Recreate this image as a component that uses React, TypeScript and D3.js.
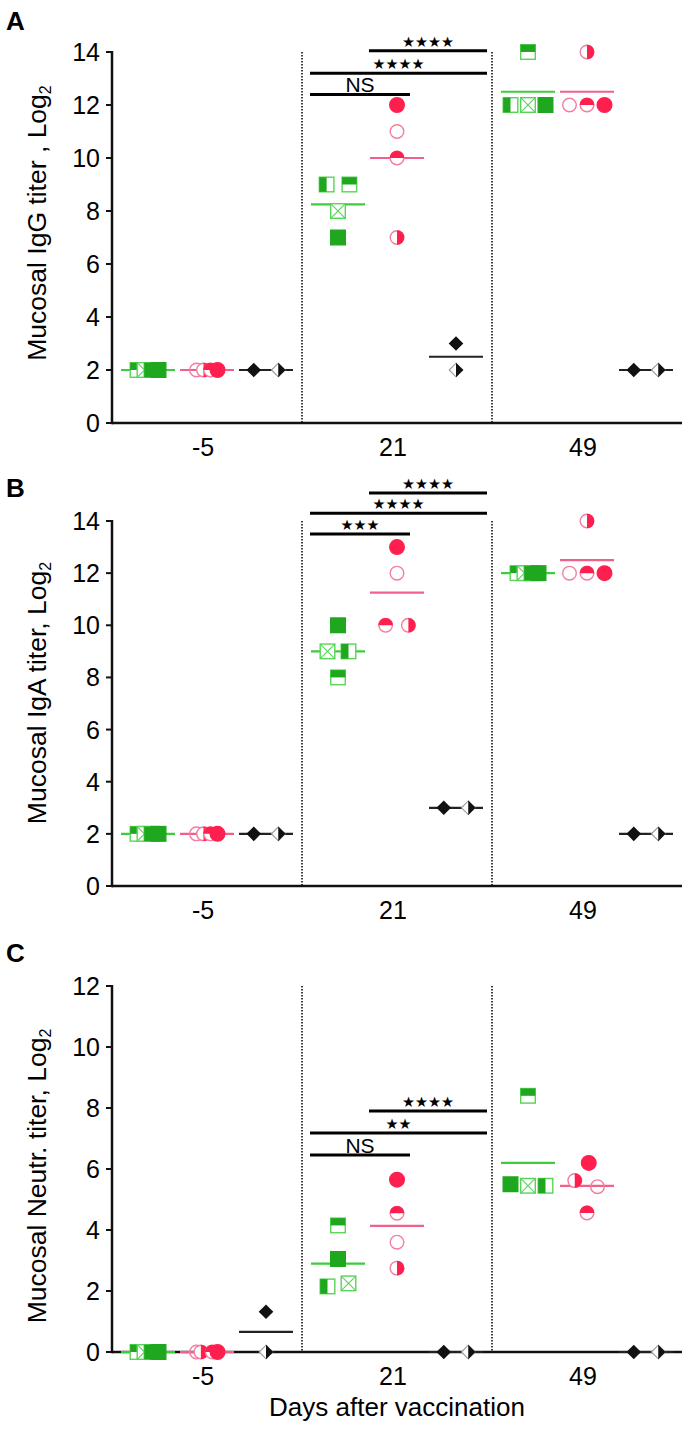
import React from "react";
import * as d3 from "d3";

const W = 696;
const H = 1430;

const timepoints = ["-5", "21", "49"];
const groupNames = ["green", "red", "black"];
const yTicksAB = [0, 2, 4, 6, 8, 10, 12, 14];
const yTicksC = [0, 2, 4, 6, 8, 10, 12];

// [timepoint, group, value, marker (animal), column offset]
type Pt = [string, string, number, string, number];

const igGPoints: Pt[] = [
  ["-5", "green", 2, "sqTop", -0.6], ["-5", "green", 2, "sqCross", -0.2], ["-5", "green", 2, "sqLeft", 0.2], ["-5", "green", 2, "sqFull", 0.6],
  ["-5", "red", 2, "ciOpen", -0.6], ["-5", "red", 2, "ciRight", -0.2], ["-5", "red", 2, "ciTop", 0.2], ["-5", "red", 2, "ciFull", 0.6],
  ["-5", "black", 2, "diFull", -0.7], ["-5", "black", 2, "diHalf", 0.7],
  ["21", "green", 9, "sqLeft", -0.65], ["21", "green", 9, "sqTop", 0.65], ["21", "green", 8, "sqCross", 0], ["21", "green", 7, "sqFull", 0],
  ["21", "red", 12, "ciFull", 0], ["21", "red", 11, "ciOpen", 0], ["21", "red", 10, "ciTop", 0], ["21", "red", 7, "ciRight", 0],
  ["21", "black", 3, "diFull", 0], ["21", "black", 2, "diHalf", 0],
  ["49", "green", 14, "sqTop", 0], ["49", "green", 12, "sqLeft", -1], ["49", "green", 12, "sqCross", 0], ["49", "green", 12, "sqFull", 1],
  ["49", "red", 14, "ciRight", 0], ["49", "red", 12, "ciOpen", -1], ["49", "red", 12, "ciTop", 0], ["49", "red", 12, "ciFull", 1],
  ["49", "black", 2, "diFull", -0.7], ["49", "black", 2, "diHalf", 0.7],
];

const igAPoints: Pt[] = [
  ["-5", "green", 2, "sqTop", -0.6], ["-5", "green", 2, "sqCross", -0.2], ["-5", "green", 2, "sqLeft", 0.2], ["-5", "green", 2, "sqFull", 0.6],
  ["-5", "red", 2, "ciOpen", -0.6], ["-5", "red", 2, "ciRight", -0.2], ["-5", "red", 2, "ciTop", 0.2], ["-5", "red", 2, "ciFull", 0.6],
  ["-5", "black", 2, "diFull", -0.7], ["-5", "black", 2, "diHalf", 0.7],
  ["21", "green", 10, "sqFull", 0], ["21", "green", 9, "sqCross", -0.6], ["21", "green", 9, "sqLeft", 0.6], ["21", "green", 8, "sqTop", 0],
  ["21", "red", 13, "ciFull", 0], ["21", "red", 12, "ciOpen", 0], ["21", "red", 10, "ciTop", -0.65], ["21", "red", 10, "ciRight", 0.65],
  ["21", "black", 3, "diFull", -0.7], ["21", "black", 3, "diHalf", 0.7],
  ["49", "green", 12, "sqTop", -0.6], ["49", "green", 12, "sqCross", -0.2], ["49", "green", 12, "sqLeft", 0.2], ["49", "green", 12, "sqFull", 0.6],
  ["49", "red", 14, "ciRight", 0], ["49", "red", 12, "ciOpen", -1], ["49", "red", 12, "ciTop", 0], ["49", "red", 12, "ciFull", 1],
  ["49", "black", 2, "diFull", -0.7], ["49", "black", 2, "diHalf", 0.7],
];

const neutrPoints: Pt[] = [
  ["-5", "green", 0, "sqTop", -0.6], ["-5", "green", 0, "sqCross", -0.2], ["-5", "green", 0, "sqLeft", 0.2], ["-5", "green", 0, "sqFull", 0.6],
  ["-5", "red", 0, "ciOpen", -0.6], ["-5", "red", 0, "ciRight", -0.35], ["-5", "red", 0, "ciTop", 0.3], ["-5", "red", 0, "ciFull", 0.6],
  ["-5", "black", 1.32, "diFull", 0], ["-5", "black", 0, "diHalf", 0],
  ["21", "green", 4.15, "sqTop", 0], ["21", "green", 3.05, "sqFull", 0], ["21", "green", 2.15, "sqLeft", -0.6], ["21", "green", 2.25, "sqCross", 0.6],
  ["21", "red", 5.65, "ciFull", 0], ["21", "red", 4.55, "ciTop", 0], ["21", "red", 3.6, "ciOpen", 0], ["21", "red", 2.75, "ciRight", 0],
  ["21", "black", 0, "diFull", -0.7], ["21", "black", 0, "diHalf", 0.7],
  ["49", "green", 8.4, "sqTop", 0], ["49", "green", 5.5, "sqFull", -1], ["49", "green", 5.45, "sqCross", 0], ["49", "green", 5.45, "sqLeft", 1],
  ["49", "red", 6.2, "ciFull", 0.1], ["49", "red", 5.62, "ciRight", -0.7], ["49", "red", 5.42, "ciOpen", 0.6], ["49", "red", 4.56, "ciTop", 0],
  ["49", "black", 0, "diFull", -0.7], ["49", "black", 0, "diHalf", 0.7],
];

// [timepoint, from group, to group, level, label]
type Br = [string, string, string, number, string];
const igGBrackets: Br[] = [
  ["21", "green", "red", 12.4, "NS"],
  ["21", "green", "black", 13.2, "★★★★"],
  ["21", "red", "black", 14.05, "★★★★"],
];
const igABrackets: Br[] = [
  ["21", "green", "red", 13.5, "★★★"],
  ["21", "green", "black", 14.3, "★★★★"],
  ["21", "red", "black", 15.07, "★★★★"],
];
const neutrBrackets: Br[] = [
  ["21", "green", "red", 6.46, "NS"],
  ["21", "green", "black", 7.18, "★★"],
  ["21", "red", "black", 7.9, "★★★★"],
];

const panelLetters = ["A", "B", "C"];
const panelTitles = ["Mucosal IgG titer , Log", "Mucosal IgA titer, Log", "Mucosal Neutr. titer, Log"];
const panelMax = [14, 14, 12];

// layout
const AXIS_X = 112;
const AXIS_END = 682;
const layout = [
  { bottom: 423, top: 52, letterY: 30, titleY: 223 },
  { bottom: 886, top: 521, letterY: 497, titleY: 693 },
  { bottom: 1352, top: 986, letterY: 962, titleY: 1176 },
];

const GREEN = "#1fa81f";
const GREEN_L = "#58d458";
const GREEN_LINE = "#3ccc3c";
const RED = "#ff1f4f";
const RED_L = "#f27ea0";
const RED_LINE = "#f0608a";
const BLACK = "#111";
const FONT = "'Liberation Sans', Arial, Helvetica, sans-serif";

function Marker({ shape, x, y }: { shape: string; x: number; y: number }) {
  const s = 7.3;
  const sw = 1.4;
  switch (shape) {
    case "sqFull":
      return <rect x={x - s} y={y - s} width={2 * s} height={2 * s} fill={GREEN} stroke={GREEN} strokeWidth={sw} />;
    case "sqTop":
      return (
        <g>
          <rect x={x - s} y={y - s} width={2 * s} height={2 * s} fill="#fff" stroke={GREEN_L} strokeWidth={sw} />
          <rect x={x - s} y={y - s} width={2 * s} height={s} fill={GREEN} />
        </g>
      );
    case "sqLeft":
      return (
        <g>
          <rect x={x - s} y={y - s} width={2 * s} height={2 * s} fill="#fff" stroke={GREEN_L} strokeWidth={sw} />
          <rect x={x - s} y={y - s} width={s} height={2 * s} fill={GREEN} />
        </g>
      );
    case "sqCross":
      return (
        <g>
          <rect x={x - s} y={y - s} width={2 * s} height={2 * s} fill="#fff" stroke={GREEN_L} strokeWidth={sw} />
          <path d={`M${x - s},${y - s}L${x + s},${y + s}M${x + s},${y - s}L${x - s},${y + s}`} stroke={GREEN_L} strokeWidth={1.1} />
        </g>
      );
    case "ciFull":
      return <circle cx={x} cy={y} r={s} fill={RED} stroke={RED} strokeWidth={sw} />;
    case "ciOpen":
      return <circle cx={x} cy={y} r={s - 0.5} fill="none" stroke={RED_L} strokeWidth={sw} />;
    case "ciTop":
      return (
        <g>
          <circle cx={x} cy={y} r={s - 0.5} fill="#fff" stroke={RED_L} strokeWidth={sw} />
          <path d={`M${x - s},${y}A${s},${s} 0 0 1 ${x + s},${y}Z`} fill={RED} />
        </g>
      );
    case "ciRight":
      return (
        <g>
          <circle cx={x} cy={y} r={s - 0.5} fill="#fff" stroke={RED_L} strokeWidth={sw} />
          <path d={`M${x},${y - s}A${s},${s} 0 0 1 ${x},${y + s}Z`} fill={RED} />
        </g>
      );
    case "diFull":
      return <path d={`M${x},${y - s}L${x + s},${y}L${x},${y + s}L${x - s},${y}Z`} fill={BLACK} />;
    case "diHalf":
      return (
        <g>
          <path d={`M${x},${y - s + 0.5}L${x + s - 0.5},${y}L${x},${y + s - 0.5}L${x - s + 0.5},${y}Z`} fill="#fff" stroke="#999" strokeWidth={1.1} />
          <path d={`M${x},${y - s}L${x + s},${y}L${x},${y + s}Z`} fill={BLACK} />
        </g>
      );
  }
  return null;
}

const lineColor: Record<string, string> = { green: GREEN_LINE, red: RED_LINE, black: "#222" };

function Panel({ idx, points, brackets, ticks }: { idx: number; points: Pt[]; brackets: Br[]; ticks: number[] }) {
  const L = layout[idx];
  const x = d3.scaleBand<string>().domain(timepoints).range([AXIS_X, AXIS_END]).padding(0);
  const gx = d3.scalePoint<string>().domain(groupNames).range([-59, 59]);
  const cx = d3.scaleLinear().domain([-1, 1]).range([-17.5, 17.5]);
  const y = d3.scaleLinear().domain([0, panelMax[idx]]).range([L.bottom, L.top]);
  const center = (t: string, g: string) => (x(t) as number) + x.bandwidth() / 2 + (gx(g) as number);

  const means = d3.rollups(points, (v) => d3.mean(v, (d) => d[2]) as number, (d) => d[0], (d) => d[1]);

  const bracketStart = -28;
  const bracketEnd: Record<string, number> = { red: 13, black: 31 };

  return (
    <g>
      <text x={6} y={L.letterY} fontSize={26} fontWeight="bold" fontFamily={FONT}>
        {panelLetters[idx]}
      </text>
      <text transform={`translate(46,${L.titleY}) rotate(-90)`} textAnchor="middle" fontSize={26.5} fontFamily={FONT}>
        {panelTitles[idx]}
        <tspan fontSize={16} dy={5}>2</tspan>
      </text>
      {/* dotted separators */}
      {timepoints.slice(1).map((t) => (
        <line key={t} x1={x(t)} x2={x(t)} y1={L.top} y2={L.bottom} stroke="#000" strokeWidth={1.5} strokeDasharray="1.5,1.5" />
      ))}
      {/* axes */}
      <line x1={AXIS_X} x2={AXIS_X} y1={L.top - 1} y2={L.bottom + 1.25} stroke="#111" strokeWidth={2.5} />
      <line x1={AXIS_X} x2={AXIS_END} y1={L.bottom} y2={L.bottom} stroke="#111" strokeWidth={2.5} />
      {ticks.map((t) => (
        <g key={t}>
          <line x1={AXIS_X - 6} x2={AXIS_X} y1={y(t)} y2={y(t)} stroke="#111" strokeWidth={2} />
          <text x={AXIS_X - 12} y={y(t)} dy="0.36em" textAnchor="end" fontSize={25} fontFamily={FONT}>
            {t}
          </text>
        </g>
      ))}
      {timepoints.map((t) => (
        <text key={t} x={(x(t) as number) + x.bandwidth() / 2 - 4} y={L.bottom + 33} textAnchor="middle" fontSize={25} fontFamily={FONT}>
          {t}
        </text>
      ))}
      {/* mean lines */}
      {means.map(([t, gs]) =>
        gs.map(([g, m]) => (
          <line key={t + g} x1={center(t, g) - 27} x2={center(t, g) + 27} y1={y(m)} y2={y(m)} stroke={lineColor[g]} strokeWidth={2.2} />
        ))
      )}
      {/* markers */}
      {points.map((p, i) => (
        <Marker key={i} shape={p[3]} x={center(p[0], p[1]) + cx(p[4])} y={y(p[2])} />
      ))}
      {/* significance brackets */}
      {brackets.map((b, i) => {
        const x1 = center(b[0], b[1]) + bracketStart;
        const x2 = center(b[0], b[2]) + bracketEnd[b[2]];
        const yy = y(b[3]);
        const isNS = b[4] === "NS";
        return (
          <g key={i}>
            <line x1={x1} x2={x2} y1={yy} y2={yy} stroke="#000" strokeWidth={3} />
            <text
              x={(x1 + x2) / 2}
              y={isNS ? yy - 2 : yy - 4}
              textAnchor="middle"
              fontSize={isNS ? 21 : 14.5}
              fontFamily={isNS ? FONT : "'DejaVu Sans', sans-serif"}
            >
              {b[4]}
            </text>
          </g>
        );
      })}
    </g>
  );
}

export default function App() {
  return (
    <svg width={W} height={H} style={{ position: "absolute", left: 0, top: 0, background: "#fff" }}>
      <rect width={W} height={H} fill="#fff" />
      <Panel idx={0} points={igGPoints} brackets={igGBrackets} ticks={yTicksAB} />
      <Panel idx={1} points={igAPoints} brackets={igABrackets} ticks={yTicksAB} />
      <Panel idx={2} points={neutrPoints} brackets={neutrBrackets} ticks={yTicksC} />
      <text x={397} y={1416} textAnchor="middle" fontSize={26} fontFamily={FONT}>
        Days after vaccination
      </text>
    </svg>
  );
}
